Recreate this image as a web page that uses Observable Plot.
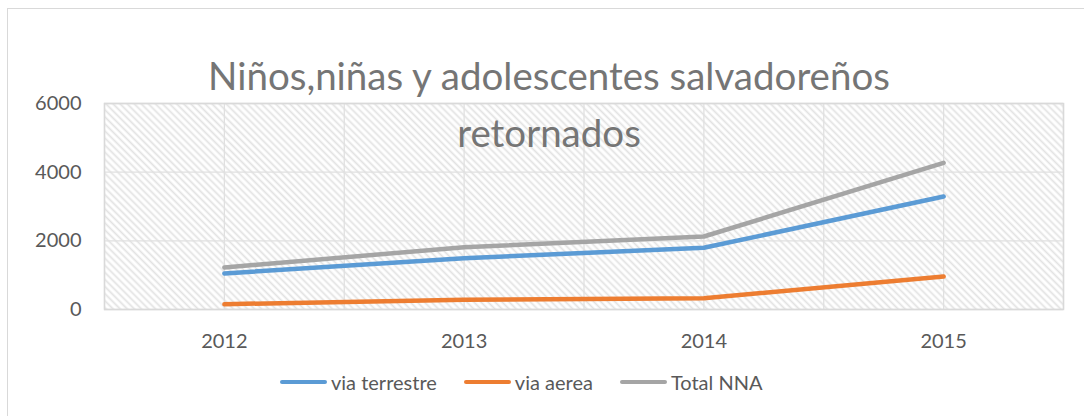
<!DOCTYPE html>
<html>
<head>
<meta charset="utf-8">
<script src="https://cdn.jsdelivr.net/npm/d3@7"></script>
<script src="https://cdn.jsdelivr.net/npm/@observablehq/plot@0.6"></script>
<style>
  html, body { margin: 0; padding: 0; background: #fff; }
  #wrap { position: relative; width: 1084px; height: 416px; overflow: hidden; font-family: Lato, "Open Sans", sans-serif; }
  #border { position: absolute; left: 6.5px; top: 7.5px; width: 1100px; height: 440px; border: 1.5px solid #d9d9d9; box-sizing: border-box; }
  #chart { position: absolute; left: 0; top: 0; }
  #title { position: absolute; left: 549px; top: 47px; transform: translateX(-50%); white-space: nowrap; text-align: center;
           font-size: 38.5px; line-height: 57px; color: #757575; }
  #legend { position: absolute; left: 280px; top: 370px; display: flex; align-items: center; gap: 27px; font-size: 20px; color: #595959; }
  .item { display: flex; align-items: center; gap: 4px; }
  .sw { width: 47px; height: 4.5px; border-radius: 3px; }
</style>
</head>
<body>
<div id="wrap">
  <div id="border"></div>
  <div id="chart"></div>
  <div id="title"></div>
  <div id="legend"></div>
</div>
<script>
const titleLines = ["Niños,niñas y adolescentes salvadoreños", "retornados"];
const years = [2012, 2013, 2014, 2015];
const seriesNames = ["via terrestre", "via aerea", "Total NNA"];
const viaTerrestre = [1049, 1495, 1797, 3292];
const viaAerea = [155, 282, 330, 961];
const totalNNA = [1223, 1815, 2126, 4273];
const yTicks = [0, 2000, 4000, 6000];
const colors = ["#5B9BD5", "#ED7D31", "#A5A5A5"];

const seriesValues = [viaTerrestre, viaAerea, totalNNA];
const data = seriesNames.flatMap((name, i) =>
  years.map((year, j) => ({ series: name, year, value: seriesValues[i][j] })));
// vertical gridlines at category centres and category boundaries
const gridX = years.flatMap(y => [y - 0.5, y]).concat([years[years.length - 1] + 0.5]);

const svg = Plot.plot({
  width: 1084,
  height: 416,
  marginLeft: 104,
  marginRight: 21,
  marginTop: 103,
  marginBottom: 107,
  style: { fontFamily: "Lato, 'Open Sans', sans-serif", fontSize: "20px", color: "#595959", background: "transparent", overflow: "visible" },
  x: { domain: [years[0] - 0.5, years[years.length - 1] + 0.5], ticks: years, tickFormat: d => String(d), tickSize: 0, tickPadding: 24, label: null },
  y: { domain: [0, 6000], ticks: yTicks, tickFormat: d => String(d), tickSize: 0, tickPadding: 23, label: null },
  color: { domain: seriesNames, range: colors },
  marks: [
    Plot.frame({ fill: "url(#hatch)", stroke: null }),
    Plot.ruleX(gridX, { stroke: "#e0e0e0", strokeWidth: 1.3 }),
    Plot.ruleY(yTicks, { stroke: "#e0e0e0", strokeWidth: 1.3 }),
    Plot.frame({ stroke: "#d9d9d9", strokeWidth: 1.5 }),
    Plot.line(data, { x: "year", y: "value", z: "series", stroke: "series", strokeWidth: 4.5, strokeLinecap: "round", strokeLinejoin: "round" })
  ]
});

const defs = d3.select(svg).insert("defs", ":first-child");
const P = 5;
const pat = defs.append("pattern")
  .attr("id", "hatch")
  .attr("patternUnits", "userSpaceOnUse")
  .attr("width", P).attr("height", P)
  .attr("patternTransform", "rotate(-45)");
pat.append("rect").attr("width", P).attr("height", P).attr("fill", "#ffffff");
pat.append("line").attr("x1", 1.5).attr("y1", 0).attr("x2", 1.5).attr("y2", P)
  .attr("stroke", "#e2e2e2").attr("stroke-width", 1.7);

document.getElementById("chart").appendChild(svg);

const title = document.getElementById("title");
title.innerHTML = titleLines.map(t => `<div>${t}</div>`).join("");

const legend = document.getElementById("legend");
seriesNames.forEach((name, i) => {
  const item = document.createElement("div");
  item.className = "item";
  item.innerHTML = `<span class="sw" style="background:${colors[i]}"></span><span>${name}</span>`;
  legend.appendChild(item);
});
</script>
</body>
</html>
